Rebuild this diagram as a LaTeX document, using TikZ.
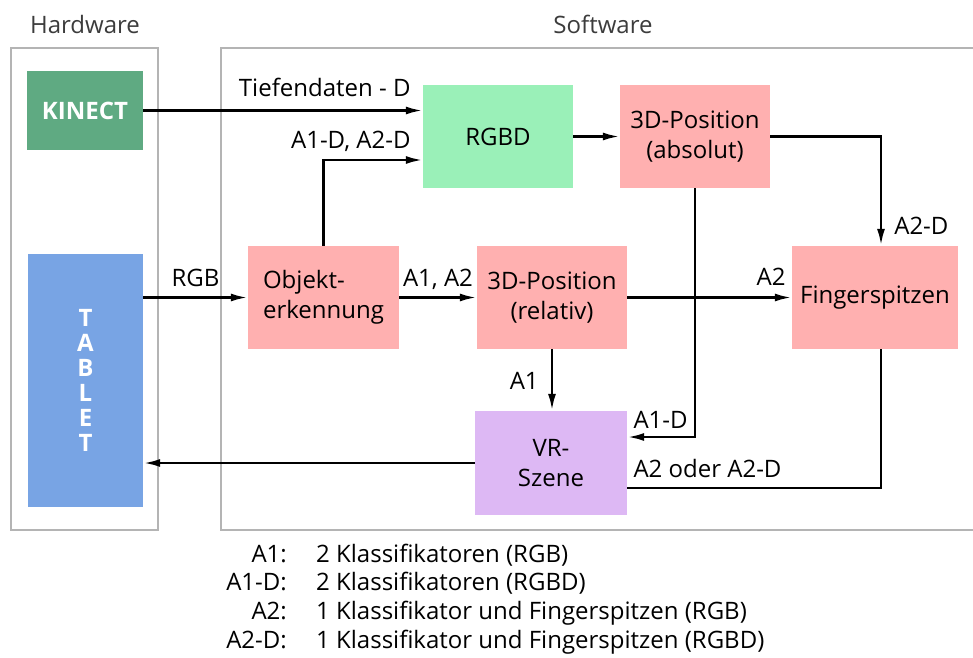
\documentclass[tikz,border=0pt]{standalone}
\usepackage{fontspec}
\setmainfont{Open Sans}
\usetikzlibrary{arrows.meta, positioning}

\definecolor{kinectgreen}{HTML}{5FAA82}
\definecolor{tabletblue}{HTML}{78A4E4}
\definecolor{rgbdgreen}{HTML}{9AF0B8}
\definecolor{stepred}{HTML}{FFB0B0}
\definecolor{vrlilac}{HTML}{DDB8F4}
\definecolor{framegray}{HTML}{B4B4B4}
\definecolor{titlegray}{HTML}{3C3C3C}

\tikzset{
  box/.style={inner sep=0pt, align=center, minimum width=150pt, minimum height=103pt,
    font=\fontsize{24}{30}\selectfont},
  hwbox/.style={inner sep=0pt, align=center, text=white,
    font=\fontsize{24}{25}\selectfont\bfseries},
  arr/.style={-{Latex[length=17pt,width=8pt]}, line width=2.6pt},
  wire/.style={line width=2.6pt},
  lbl/.style={inner sep=0pt, font=\fontsize{24}{30}\selectfont},
  frame/.style={draw=framegray, line width=1.2pt},
}

\begin{document}
\begin{tikzpicture}[x=1pt, y=-1pt]
  \useasboundingbox (0,0) rectangle (973,657);

  % Frames
  \draw[frame] (11,48) rectangle (158,530);
  \draw[frame] (973,48) -- (221,48) -- (221,530) -- (973,530);
  \node[lbl, text=titlegray, anchor=base] (hwtitle) at (85,33) {Hardware};
  \node[lbl, text=titlegray, anchor=base] (swtitle) at (603,33) {Software};

  % Hardware
  \node[hwbox, fill=kinectgreen, minimum width=116pt, minimum height=79pt] (kinect) at (85,110.5) {KINECT};
  \node[hwbox, fill=tabletblue, minimum width=115pt, minimum height=253pt] (tablet) at (85.5,380.5) {T\\A\\B\\L\\E\\T};

  % Software
  \node[box, fill=rgbdgreen] (rgbd) at (498,136.5) {RGBD};
  \node[box, fill=stepred] (absolut) at (695,136.5) {3D-Position\\(absolut)};
  \node[box, fill=stepred, align=left, minimum width=151pt] (objekt) at (323.5,297.5) {Objekt-\\erkennung};
  \node[box, fill=stepred] (relativ) at (552,297.5) {3D-Position\\(relativ)};
  \node[box, fill=stepred, minimum width=166pt] (finger) at (875,297.5) {Fingerspitzen};
  \node[box, fill=vrlilac, minimum width=152pt, minimum height=104pt] (vr) at (551,463) {VR-\\Szene};

  % Kinect to RGBD
  \draw[arr] (kinect.east) -- (kinect.east -| rgbd.west)
    node[lbl, pos=1, anchor=base east, xshift=-11pt, yshift=14pt] (tiefe) {Tiefendaten - D};

  % Objekterkennung to RGBD
  \draw[arr] (objekt.north) |- ([yshift=-23.5pt]rgbd.west)
    node[lbl, pos=1, anchor=base east, xshift=-11pt, yshift=12pt] (adlbl) {A1-D, A2-D};

  % RGBD to absolute position
  \draw[arr] (rgbd.east) -- (absolut.west);

  % Absolute position to fingertips
  \draw[arr] (absolut.east) -| ([xshift=6pt]finger.north)
    node[lbl, pos=1, anchor=base west, xshift=12pt, yshift=11pt] (a2dlbl) {A2-D};

  % Absolute position to VR scene
  \draw[arr] (absolut.south) |- ([yshift=26pt]vr.east)
    node[lbl, pos=1, anchor=base west, xshift=5pt, yshift=9pt] (a1dlbl) {A1-D};

  % Tablet to Objekterkennung
  \draw[arr] (tablet.east |- objekt.west) -- (objekt.west)
    node[lbl, midway, anchor=base, yshift=11pt] (rgblbl) {RGB};

  % Objekterkennung to relative position
  \draw[arr] (objekt.east) -- (relativ.west)
    node[lbl, midway, anchor=base, yshift=11pt] (a12lbl) {A1, A2};

  % Relative position to fingertips
  \draw[arr] (relativ.east) -- (finger.west)
    node[lbl, pos=1, anchor=base east, xshift=-5pt, yshift=12pt] (a2lbl) {A2};

  % Relative position to VR scene
  \draw[arr] (relativ.south) -- (relativ.south |- vr.north)
    node[lbl, midway, anchor=base east, xshift=-12pt, yshift=-9pt] (a1lbl) {A1};

  % Fingertips to VR scene
  \draw[wire] ([xshift=6pt]finger.south) |- ([yshift=-25pt]vr.east)
    node[lbl, pos=1, anchor=base west, xshift=5pt, yshift=11pt] (oderlbl) {A2 oder A2-D};

  % VR scene to tablet
  \draw[arr] (vr.west) -- (vr.west -| tablet.east);

  % Legend
  \foreach \key/\desc [count=\i] in {A1:/2 Klassifikatoren (RGB),
      A1-D:/2 Klassifikatoren (RGBD),
      A2:/1 Klassifikator und Fingerspitzen (RGB),
      A2-D:/1 Klassifikator und Fingerspitzen (RGBD)} {
    \node[lbl, anchor=base east] (key\i) at (287,{562+28.7*(\i-1)}) {\key};
    \node[lbl, anchor=base west] (desc\i) at (316,{562+28.7*(\i-1)}) {\desc};
  }

\end{tikzpicture}
\end{document}
